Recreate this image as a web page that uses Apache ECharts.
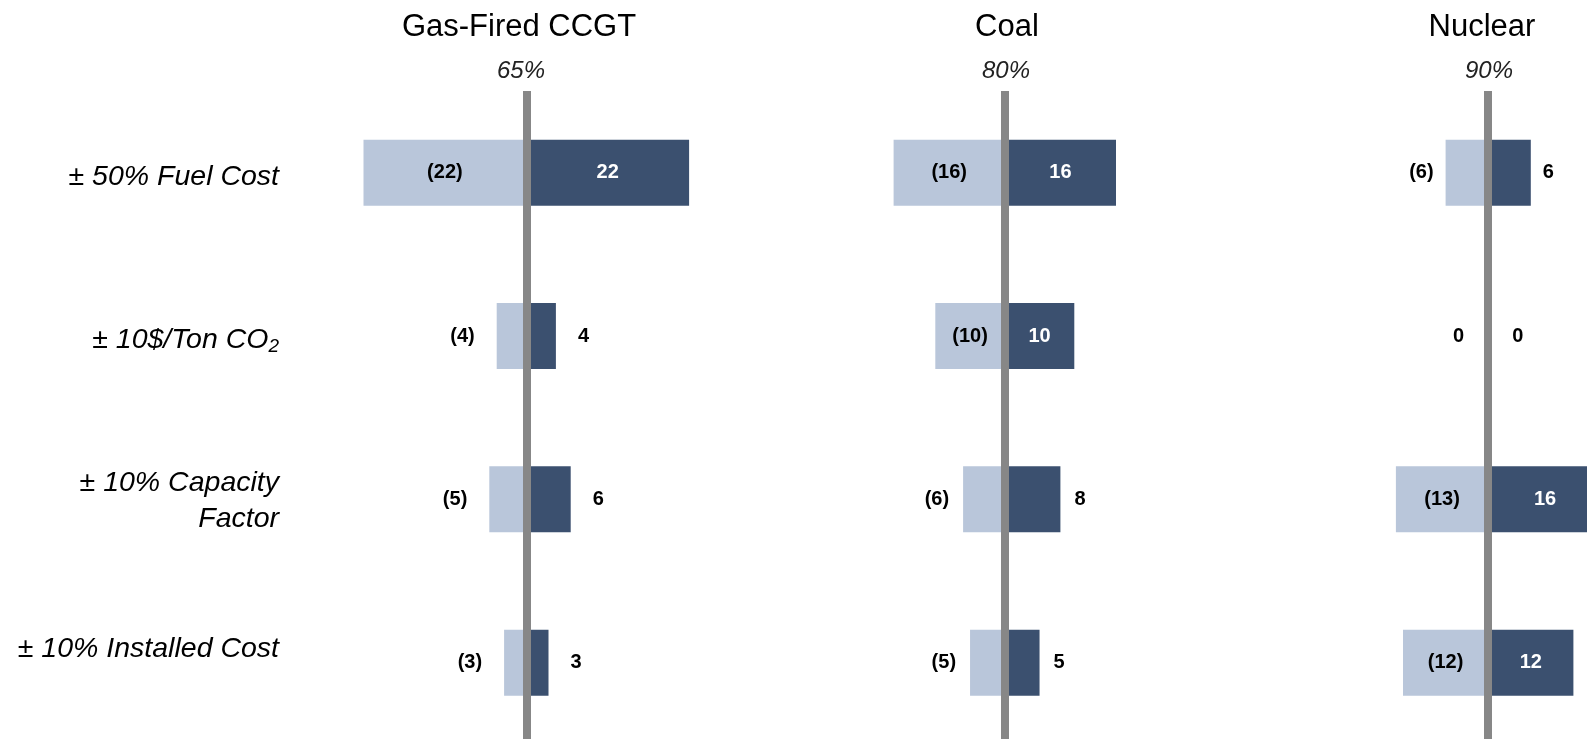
<!DOCTYPE html>
<html>
<head>
<meta charset="utf-8">
<script src="https://cdn.jsdelivr.net/npm/echarts@6/dist/echarts.min.js"></script>
<style>
  html, body { margin: 0; padding: 0; background: #ffffff; }
  #chart { width: 1587px; height: 739px; }
</style>
</head>
<body>
<div id="chart"></div>
<script>
// Sensitivity of generation cost to key assumptions, by technology
const categories = ['± 50% Fuel Cost', '± 10$/Ton CO₂', '± 10% Capacity\nFactor', '± 10% Installed Cost'];
const techNames = ['Gas-Fired CCGT', 'Coal', 'Nuclear'];
const capacityFactors = ['65%', '80%', '90%'];

const gasLow = [-22, -4, -5, -3];
const gasHigh = [22, 4, 6, 3];
const coalLow = [-16, -10, -6, -5];
const coalHigh = [16, 10, 8, 5];
const nuclearLow = [-6, 0, -13, -12];
const nuclearHigh = [6, 0, 16, 12];

const lowSeries = [gasLow, coalLow, nuclearLow];
const highSeries = [gasHigh, coalHigh, nuclearHigh];

// panel geometry: centre line x, pixels per unit, outside-label gap
const panels = [
  { cx: 526.3, ppu: 7.4, titleX: 519, subX: 521, gap: 22 },
  { cx: 1004.8, ppu: 6.95, titleX: 1007, subX: 1006, gap: 14 },
  { cx: 1488.2, ppu: 7.1, titleX: 1482, subX: 1489, gap: 12 }
];
const RANGE = 25;
const GRID_TOP = 91;
const GRID_HEIGHT = 653.3;
const LABEL_RIGHT = 279;

const LIGHT = '#b9c6da';
const DARK = '#3b506f';
const LINE = '#878787';
const FONT = "'Liberation Sans', Arial, sans-serif";

function labelFor(v, side, gap) {
  const inside = Math.abs(v) >= 9;
  return {
    value: v,
    label: {
      position: inside ? 'inside' : side,
      distance: v === 0 ? 24 : gap,
      color: inside && side === 'right' ? '#ffffff' : '#000000'
    }
  };
}

// row-label text styles (each row's label sits a little differently against its bars)
const catText = { fontFamily: FONT, fontStyle: 'italic', fontSize: 28.5, lineHeight: 36, color: '#000' };
const catSub = { fontFamily: FONT, fontStyle: 'italic', fontSize: 19, lineHeight: 36, color: '#000' };
const catRich = {
  t0: Object.assign({}, catText, { padding: [8, 0, 0, 0] }),
  t1: Object.assign({}, catText, { padding: [8, 0, 0, 0] }),
  s1: Object.assign({}, catSub, { padding: [22, 0, 0, 0] }),
  t2: Object.assign({}, catText, { padding: [3, 0, 0, 0] }),
  t3: Object.assign({}, catText, { padding: [0, 0, 28, 0] })
};

const grids = [], xAxes = [], yAxes = [], series = [], graphics = [];

panels.forEach((p, i) => {
  const gridLeft = p.cx - RANGE * p.ppu;
  grids.push({
    left: gridLeft,
    width: 2 * RANGE * p.ppu,
    top: GRID_TOP,
    height: GRID_HEIGHT,
    containLabel: false,
    outerBoundsMode: 'none'
  });
  xAxes.push({
    gridIndex: i, type: 'value', min: -RANGE, max: RANGE, show: false
  });
  yAxes.push({
    gridIndex: i,
    type: 'category',
    data: categories,
    inverse: true,
    z: 5,
    axisTick: { show: false },
    splitLine: { show: false },
    axisLine: { show: true, onZero: true, lineStyle: { color: LINE, width: 8, cap: 'butt' } },
    axisLabel: {
      show: i === 0,
      margin: gridLeft - LABEL_RIGHT,
      align: 'right',
      fontFamily: FONT,
      fontStyle: 'italic',
      fontSize: 28.5,
      color: '#000',
      formatter: (val, idx) => val.split('\n').map(line => {
        if (line.indexOf('₂') >= 0) {
          return '{t' + idx + '|' + line.replace('₂', '') + '}{s' + idx + '|2}';
        }
        return '{t' + idx + '|' + line + '}';
      }).join('\n'),
      rich: catRich
    }
  });

  const common = {
    type: 'bar',
    xAxisIndex: i,
    yAxisIndex: i,
    barWidth: 66,
    barGap: '-100%',
    z: 2,
    label: {
      show: true,
      fontFamily: FONT,
      fontWeight: 'bold',
      fontSize: 20,
      padding: [4, 0, 0, 0]
    },
    emphasis: { disabled: true },
    animation: false
  };

  series.push(Object.assign({}, common, {
    name: techNames[i] + ' low',
    itemStyle: { color: LIGHT },
    label: Object.assign({}, common.label, {
      formatter: (d) => d.value < 0 ? '(' + (-d.value) + ')' : String(Math.abs(d.value))
    }),
    data: lowSeries[i].map(v => labelFor(v, 'left', p.gap))
  }));
  series.push(Object.assign({}, common, {
    name: techNames[i] + ' high',
    itemStyle: { color: DARK },
    label: Object.assign({}, common.label, {
      formatter: (d) => String(d.value)
    }),
    data: highSeries[i].map(v => labelFor(v, 'right', p.gap))
  }));

  graphics.push({
    type: 'text', x: p.titleX, y: 27,
    style: { text: techNames[i], fontFamily: FONT, fontSize: 31, fill: '#000', align: 'center', verticalAlign: 'middle' }
  });
  graphics.push({
    type: 'text', x: p.subX, y: 71,
    style: { text: capacityFactors[i], fontFamily: FONT, fontStyle: 'italic', fontSize: 24, fill: '#222', align: 'center', verticalAlign: 'middle' }
  });
});

const chart = echarts.init(document.getElementById('chart'), null, { renderer: 'canvas' });
chart.setOption({
  animation: false,
  backgroundColor: '#ffffff',
  grid: grids,
  xAxis: xAxes,
  yAxis: yAxes,
  series: series,
  graphic: graphics
});
</script>
</body>
</html>
